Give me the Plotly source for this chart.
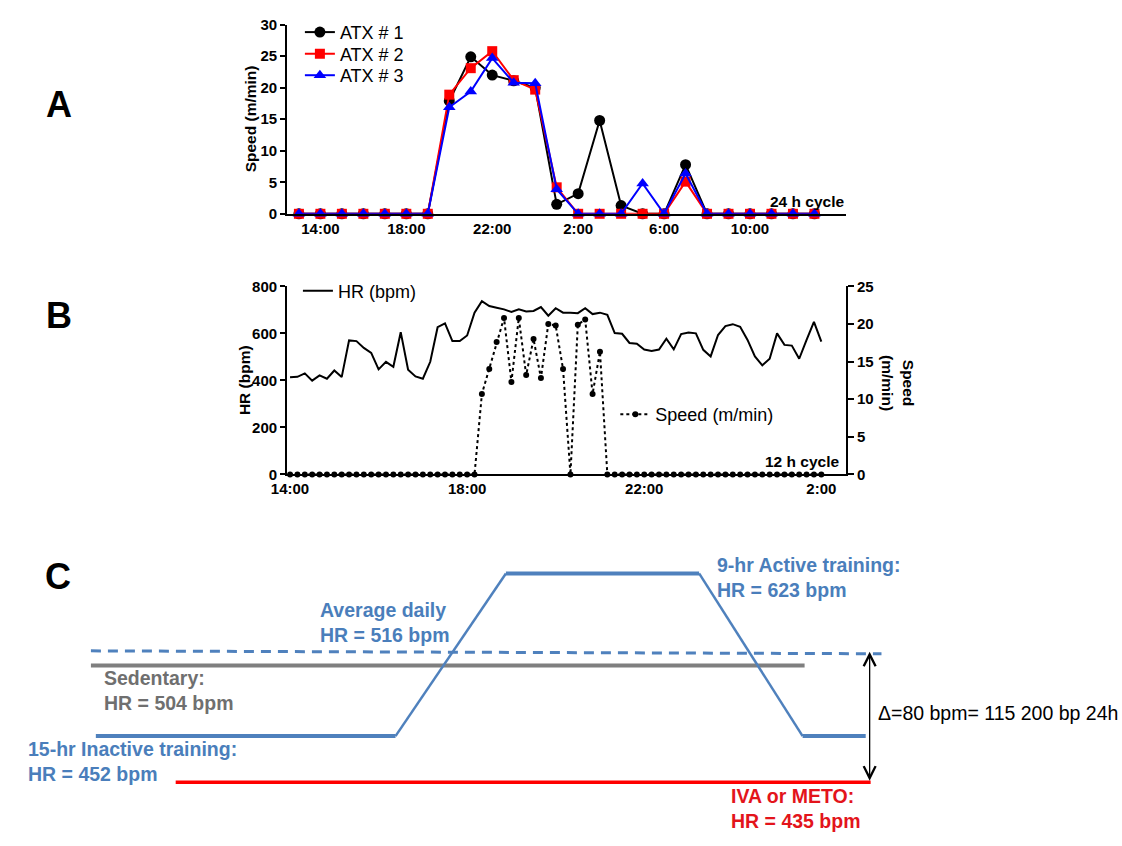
import plotly.graph_objects as go

W, H = 1122, 846
FONT = "Liberation Sans, Arial, Helvetica, sans-serif"

def px(p):
    return p / W

def py(p):
    return 1 - p / H

# ---------------- Panel A data (hourly, 13:00 -> 13:00 next day) ----------------
hours_a = list(range(13, 38))
atx1 = [0, 0, 0, 0, 0, 0, 0, 17.9, 24.9, 22.0, 21.1, 20.0, 1.5, 3.2, 14.8, 1.3, 0, 0, 7.8, 0, 0, 0, 0, 0, 0]
atx2 = [0, 0, 0, 0, 0, 0, 0, 18.9, 23.1, 25.8, 21.2, 19.7, 4.2, 0, 0, 0, 0, 0, 5.1, 0, 0, 0, 0, 0, 0]
atx3 = [0, 0, 0, 0, 0, 0, 0, 16.9, 19.4, 24.7, 20.8, 20.7, 3.9, 0, 0, 0, 4.8, 0, 6.4, 0, 0, 0, 0, 0, 0]
a_tickvals = [14, 18, 22, 26, 30, 34]
a_ticktext = ["14:00", "18:00", "22:00", "2:00", "6:00", "10:00"]

# ---------------- Panel B data (10-min samples, 14:00 -> 2:00) ----------------
time_b = [i / 6 for i in range(73)]
hr_bpm = [413, 415, 430, 399, 421, 407, 442, 414, 570, 567, 538, 517, 447, 479, 458, 605,
          445, 417, 407, 479, 626, 642, 567, 567, 591, 688, 737, 716, 709, 702, 691, 702,
          693, 695, 712, 675, 707, 688, 688, 686, 707, 682, 688, 679, 601, 598, 559, 556,
          531, 525, 531, 577, 532, 597, 604, 600, 530, 502, 593, 631, 639, 628, 572, 502,
          464, 492, 600, 551, 548, 492, 572, 649, 565]
speed_b = [0, 0, 0, 0, 0, 0, 0, 0, 0, 0, 0, 0, 0, 0, 0, 0, 0, 0, 0, 0, 0, 0, 0, 0, 0, 0,
           10.7, 14.0, 17.6, 20.8, 12.3, 20.8, 13.2, 18.0, 12.8, 20.0, 19.8, 14.0, 0,
           19.9, 20.6, 10.7, 16.3, 0, 0, 0, 0, 0, 0, 0, 0, 0, 0, 0, 0, 0, 0, 0, 0, 0, 0,
           0, 0, 0, 0, 0, 0, 0, 0, 0, 0, 0, 0]
b_tickvals = [0, 4, 8, 12]
b_ticktext = ["14:00", "18:00", "22:00", "2:00"]

# ---------------- Panel C schematic (drawing units) ----------------
c_traj_x = [81, 385, 497, 693, 798, 862]
c_traj_y = [742, 742, 576, 576, 742, 742]
c_avg_x = [76, 878]
c_avg_y = [655, 658]
c_sed_x = [76, 800]
c_sed_y = [670, 670]
c_drug_x = [162, 867]
c_drug_y = [789, 789]

BLUE = "#4F81BD"
BLUE_T = "#4A7EBB"
GRAY = "#7F7F7F"
RED = "#FF0000"

fig = go.Figure()

# Panel A traces
fig.add_trace(go.Scatter(x=hours_a, y=atx1, mode="lines+markers", name="ATX # 1",
                         line=dict(color="black", width=2),
                         marker=dict(symbol="circle", size=11, color="black"),
                         xaxis="x", yaxis="y", legend="legend", cliponaxis=False))
fig.add_trace(go.Scatter(x=hours_a, y=atx2, mode="lines+markers", name="ATX # 2",
                         line=dict(color="#FF0000", width=2),
                         marker=dict(symbol="square", size=10, color="#FF0000"),
                         xaxis="x", yaxis="y", legend="legend4", cliponaxis=False))
fig.add_trace(go.Scatter(x=hours_a, y=atx3, mode="lines+markers", name="ATX # 3",
                         line=dict(color="#0000FF", width=2),
                         marker=dict(symbol="triangle-up", size=11, color="#0000FF"),
                         xaxis="x", yaxis="y", legend="legend5", cliponaxis=False))

# Panel B traces
fig.add_trace(go.Scatter(x=time_b, y=hr_bpm, mode="lines", name="HR (bpm)",
                         line=dict(color="black", width=2),
                         xaxis="x2", yaxis="y2", legend="legend2", cliponaxis=False))
fig.add_trace(go.Scatter(x=time_b, y=speed_b, mode="lines+markers", name="Speed (m/min)",
                         line=dict(color="black", width=2, dash="dot"),
                         marker=dict(symbol="circle", size=6, color="black"),
                         xaxis="x2", yaxis="y3", legend="legend3", cliponaxis=False))

# Panel C traces
def cline(x, y, color, width, dash=None):
    fig.add_trace(go.Scatter(x=x, y=y, mode="lines", showlegend=False, hoverinfo="skip",
                             line=dict(color=color, width=width, dash=dash),
                             xaxis="x3", yaxis="y4", cliponaxis=False))

cline(c_avg_x, c_avg_y, BLUE, 3, "10px,7px")
cline(c_sed_x, c_sed_y, GRAY, 4)
cline(c_traj_x[0:2], c_traj_y[0:2], BLUE, 4)
cline(c_traj_x[1:3], c_traj_y[1:3], BLUE, 2.5)
cline(c_traj_x[2:4], c_traj_y[2:4], BLUE, 4)
cline(c_traj_x[3:5], c_traj_y[3:5], BLUE, 2.5)
cline(c_traj_x[4:6], c_traj_y[4:6], BLUE, 4)
cline(c_drug_x, c_drug_y, RED, 3.5)

tickfont = dict(family=FONT, size=15, color="black", weight="bold")
axis_common = dict(showline=True, linecolor="black", linewidth=2, showgrid=False,
                   zeroline=False, tickfont=tickfont, mirror=False)

def leg(x, y):
    return dict(x=px(x), y=py(y), xanchor="left", yanchor="top",
                font=dict(family=FONT, size=18), bgcolor="rgba(0,0,0,0)",
                tracegroupgap=0, itemwidth=30)

fig.update_layout(
    width=W, height=H, margin=dict(l=0, r=0, t=0, b=0),
    paper_bgcolor="white", plot_bgcolor="rgba(0,0,0,0)",
    font=dict(family=FONT, color="black"),
    xaxis=dict(domain=[px(275), px(842)], range=[12.449, 38.469], anchor="y",
               tickvals=a_tickvals, ticktext=a_ticktext, ticks="", **axis_common),
    yaxis=dict(domain=[py(209), py(16)], range=[0, 30], anchor="x",
               tickvals=[0, 5, 10, 15, 20, 25, 30], ticks="outside", ticklen=5, tickwidth=2,
               tickcolor="black", **axis_common),
    xaxis2=dict(domain=[px(275), px(842)], range=[-0.0668, 12.557], anchor="y2",
                tickvals=b_tickvals, ticktext=b_ticktext, ticks="", **axis_common),
    yaxis2=dict(domain=[py(475), py(283)], range=[0, 800], anchor="x2",
                tickvals=[0, 200, 400, 600, 800], ticks="outside", ticklen=5, tickwidth=2,
                tickcolor="black", **axis_common),
    yaxis3=dict(range=[0, 25], overlaying="y2", side="right", anchor="x2",
                tickvals=[0, 5, 10, 15, 20, 25], ticks="outside", ticklen=6, tickwidth=2,
                tickcolor="black", **axis_common),
    xaxis3=dict(domain=[0, 1], range=[0, W], anchor="y4", visible=False),
    yaxis4=dict(domain=[0, py(540)], range=[846, 540], anchor="x3", visible=False),
    legend=leg(288, 5),
    legend4=leg(288, 27),
    legend5=leg(288, 49),
    legend2=leg(286, 269),
    legend3=leg(608, 395),
)

annotations = []

def ann(text, x, y, size, color="black", bold=True, xanchor="center", yanchor="middle",
        angle=0, align="left"):
    annotations.append(dict(text=text, x=px(x), y=py(y), xref="paper", yref="paper",
                            showarrow=False, xanchor=xanchor, yanchor=yanchor,
                            textangle=angle, align=align,
                            font=dict(family=FONT, size=size, color=color,
                                      weight="bold" if bold else "normal")))

# Panel letters
ann("A", 44, 97, 36)
ann("B", 44, 313, 36)
ann("C", 43, 579, 36)

# Axis titles
ann("Speed (m/min)", 238, 112, 15.5, angle=-90)
ann("HR (bpm)", 232, 379, 15.5, angle=-90)
ann("Speed<br>(m/min)", 895, 382, 15.5, angle=90, align="center")
ann("24 h cycle", 842, 196, 15.5, xanchor="right")
ann("12 h cycle", 837, 462, 15.5, xanchor="right")

# Panel C labels
ann("Average daily<br>HR = 516 bpm", 306, 626, 19.5, BLUE_T, xanchor="left")
ann("Sedentary:<br>HR = 504 bpm", 87, 695, 19.5, "#6F6F6F", xanchor="left")
ann("15-hr Inactive training:<br>HR = 452 bpm", 10, 768, 19.5, BLUE_T, xanchor="left")
ann("9-hr Active training:<br>HR = 623 bpm", 709, 580, 19.5, BLUE_T, xanchor="left")
ann("IVA or METO:<br>HR = 435 bpm", 723, 816, 19.5, "#E3141B", xanchor="left")
ann("\u0394=80 bpm= 115 200 bp 24h", 872, 718, 19.5, "black", bold=False, xanchor="left")

# Double-headed arrow (delta)
annotations.append(dict(x=866, y=c_avg_y[1] - 2, ax=866, ay=c_drug_y[0],
                        xref="x3", yref="y4", axref="x3", ayref="y4", text="",
                        showarrow=True, arrowside="end+start", arrowhead=5, startarrowhead=5,
                        arrowwidth=1.3, arrowsize=1.8, startarrowsize=1.8, arrowcolor="black"))

fig.update_layout(annotations=annotations)

fig.write_html("out.html", post_script="document.body.style.margin='0';document.body.style.padding='0';")
